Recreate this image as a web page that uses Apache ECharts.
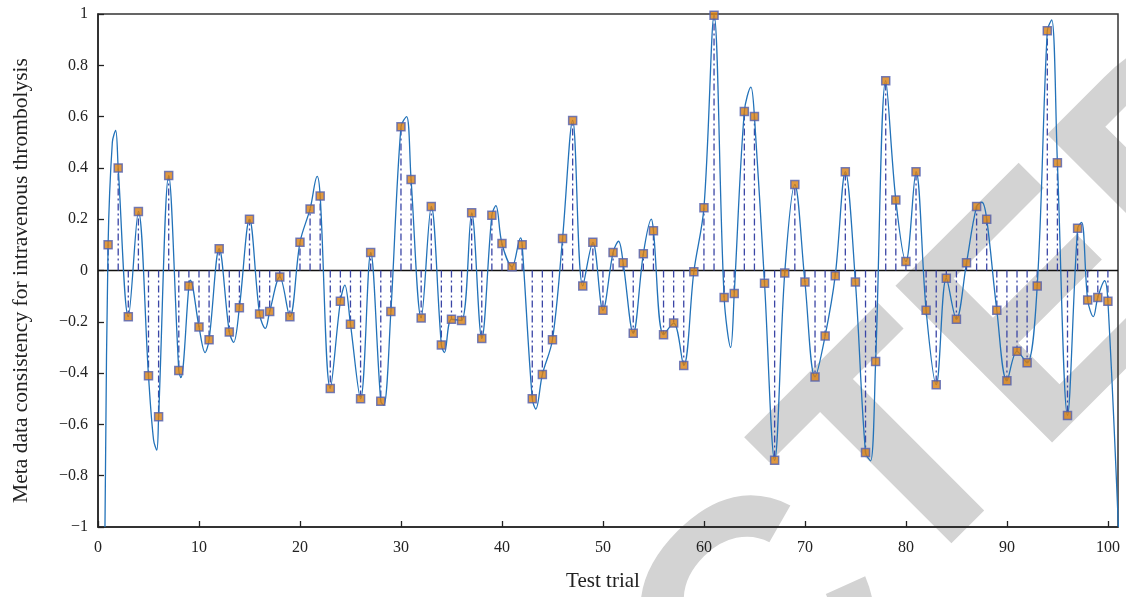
<!DOCTYPE html>
<html>
<head>
<meta charset="utf-8">
<script src="https://cdn.jsdelivr.net/npm/echarts@6/dist/echarts.min.js"></script>
<style>
  html, body { margin: 0; padding: 0; background: #fff; }
  #main { width: 1126px; height: 597px; }
</style>
</head>
<body>
<div id="main"></div>
<script>
var trials = [];
for (var t = 1; t <= 100; t++) trials.push(t);

var consistency = [
  0.10, 0.40, -0.18, 0.23, -0.41, -0.57, 0.37, -0.39, -0.06, -0.22,
  -0.27, 0.085, -0.24, -0.145, 0.20, -0.17, -0.16, -0.025, -0.18, 0.11,
  0.24, 0.29, -0.46, -0.12, -0.21, -0.50, 0.07, -0.51, -0.16, 0.56,
  0.355, -0.185, 0.25, -0.29, -0.19, -0.195, 0.225, -0.265, 0.215, 0.105,
  0.015, 0.10, -0.50, -0.405, -0.27, 0.125, 0.585, -0.06, 0.11, -0.155,
  0.07, 0.03, -0.245, 0.065, 0.155, -0.25, -0.205, -0.37, -0.005, 0.245,
  0.995, -0.105, -0.09, 0.62, 0.60, -0.05, -0.74, -0.01, 0.335, -0.045,
  -0.415, -0.255, -0.02, 0.385, -0.045, -0.71, -0.355, 0.74, 0.275, 0.035,
  0.385, -0.155, -0.445, -0.03, -0.19, 0.03, 0.25, 0.20, -0.155, -0.43,
  -0.315, -0.36, -0.06, 0.935, 0.42, -0.565, 0.165, -0.115, -0.105, -0.12
];

// extra turning points of the fitted curve
var curveExtraX = [0.69, 1.42, 1.75, 5.5, 5.82, 8.2, 9.13, 10.6, 13.43, 16.57,
  21.7, 24.44, 28.3, 30.56, 34.3, 39.4, 41.85, 43.35, 51.55, 54.8,
  62.65, 64.65, 76.5, 87.53, 94.44, 97.4, 98.56, 99.67, 101.04];
var curveExtraY = [-1.0, 0.50, 0.546, -0.66, -0.70, -0.418, -0.038, -0.32, -0.28, -0.226,
  0.367, -0.057, -0.525, 0.60, -0.32, 0.253, 0.127, -0.54, 0.114, 0.20,
  -0.30, 0.715, -0.742, 0.266, 0.977, 0.188, -0.18, -0.04, -1.0];

var yTicks = [-1, -0.8, -0.6, -0.4, -0.2, 0, 0.2, 0.4, 0.6, 0.8, 1];

var markerData = trials.map(function (x, i) { return [x, consistency[i]]; });
var curveData = markerData.concat(curveExtraX.map(function (x, i) { return [x, curveExtraY[i]]; }));
curveData.sort(function (a, b) { return a[0] - b[0]; });

var serif = '"Liberation Serif", "DejaVu Serif", serif';

var chartDom = document.getElementById('main');
var myChart = echarts.init(chartDom, null, { renderer: 'canvas' });

// the grey RETRACTED stamp behind the plot (only these letters reach the canvas)
var stamp = [['A', 600, 790], ['C', 769, 632], ['T', 905, 464], ['E', 1050, 319], ['D', 1208, 161]];

var option = {
  animation: false,
  backgroundColor: '#fff',
  graphic: stamp.map(function (s) {
    return {
      type: 'text', x: s[1], y: s[2], rotation: Math.PI / 4, z: -1, silent: true,
      style: {
        text: s[0], font: 'bold 322px "Liberation Sans"', fill: '#d3d3d3',
        align: 'center', verticalAlign: 'middle', textAlign: 'center', textVerticalAlign: 'middle'
      }
    };
  }),
  grid: { left: 98, right: 8, top: 14, bottom: 69, show: true, borderColor: '#333', borderWidth: 1.5, backgroundColor: 'transparent' },
  xAxis: {
    type: 'value', min: 0, max: 101, interval: 10,
    name: 'Test trial', nameLocation: 'middle', nameGap: 44,
    nameTextStyle: { fontFamily: serif, fontSize: 21, color: '#222', padding: [0, 10, 0, 0] },
    axisLine: { onZero: false, lineStyle: { color: '#222', width: 1.5 } },
    axisTick: { inside: true, length: 6, lineStyle: { color: '#222', width: 1.3 } },
    axisLabel: { fontFamily: serif, fontSize: 16, color: '#222', margin: 13, showMaxLabel: false },
    splitLine: { show: false }
  },
  yAxis: {
    type: 'value', min: -1, max: 1, interval: 0.2,
    name: 'Meta data consistency for intravenous thrombolysis', nameLocation: 'middle', nameGap: 66,
    nameTextStyle: { fontFamily: serif, fontSize: 21.5, color: '#222', padding: [0, 20, 0, 0] },
    axisLine: { onZero: false, lineStyle: { color: '#222', width: 1.5 } },
    axisTick: { inside: true, length: 6, lineStyle: { color: '#222', width: 1.3 } },
    axisLabel: {
      fontFamily: serif, fontSize: 16, color: '#222', margin: 10,
      formatter: function (v) {
        var r = Math.round(v * 10) / 10;
        return yTicks.indexOf(r) >= 0 ? String(r).replace('-', '\u2212') : '';
      }
    },
    splitLine: { show: false }
  },
  series: [
    {
      name: 'stems', type: 'custom', clip: true, z: 2,
      data: markerData,
      renderItem: function (params, api) {
        var top = api.coord([api.value(0), api.value(1)]);
        var base = api.coord([api.value(0), 0]);
        return {
          type: 'line',
          shape: { x1: base[0], y1: base[1], x2: top[0], y2: top[1] },
          style: { stroke: '#3b46a6', lineWidth: 1.3, lineDash: [7, 3, 2, 3] }
        };
      }
    },
    {
      name: 'curve', type: 'line', data: curveData, smooth: 0.35,
      showSymbol: false, z: 3,
      lineStyle: { color: '#2272b9', width: 1.3 }
    },
    {
      name: 'markers', type: 'scatter', data: markerData, z: 4,
      symbol: 'rect', symbolSize: 8,
      itemStyle: { color: '#d98010', borderColor: '#5360b0', borderWidth: 1.5 },
      markLine: {
        silent: true, symbol: 'none', label: { show: false }, z: 1,
        lineStyle: { color: '#111', width: 1.3, type: 'solid' },
        data: [{ yAxis: 0 }]
      }
    }
  ]
};

myChart.setOption(option);
window.addEventListener('resize', function () { myChart.resize(); });
</script>
</body>
</html>
